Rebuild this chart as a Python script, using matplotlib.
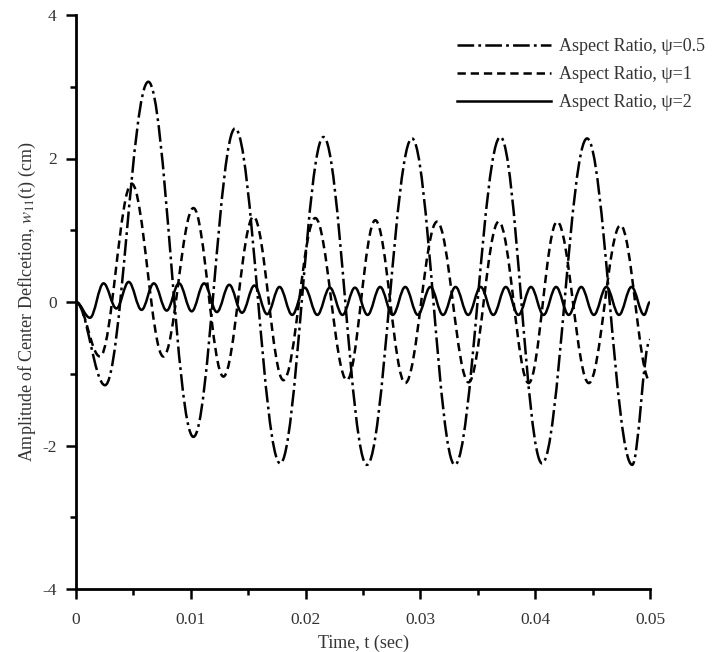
import matplotlib
matplotlib.use('Agg')
import matplotlib.pyplot as plt
from matplotlib.path import Path
from matplotlib.patches import PathPatch
from matplotlib.lines import Line2D

# ---- data (extrema of each response curve) ----
t_psi05 = [0.0, 0.00253, 0.0063, 0.01023, 0.01386, 0.01779, 0.02156, 0.02534,
           0.02927, 0.0330, 0.03697, 0.0406, 0.04452, 0.04845, 0.05]
w_psi05 = [0.0, -1.16, 3.07, -1.88, 2.42, -2.25, 2.30, -2.27,
           2.28, -2.27, 2.30, -2.25, 2.28, -2.27, -0.53]

t_psi1 = [0.0, 0.00209, 0.00485, 0.00761, 0.01023, 0.01284, 0.01546, 0.01807,
          0.02084, 0.0236, 0.02607, 0.02868, 0.03145, 0.0342, 0.03682, 0.03943,
          0.04191, 0.04467, 0.04743, 0.05]
w_psi1 = [0.0, -0.76, 1.65, -0.76, 1.31, -1.04, 1.19, -1.09,
          1.17, -1.09, 1.14, -1.13, 1.12, -1.12, 1.12, -1.13,
          1.12, -1.13, 1.07, -1.10]

t_psi2 = [0.0, 0.00122, 0.0024, 0.00352, 0.00459, 0.00571, 0.00678, 0.0079,
          0.00897, 0.01008, 0.01116, 0.01227, 0.01335, 0.01446, 0.01554, 0.01665,
          0.01773, 0.01883, 0.01992, 0.02102, 0.02211, 0.02321, 0.0243, 0.0254,
          0.02649, 0.02759, 0.02868, 0.02978, 0.03087, 0.03197, 0.03306, 0.03416,
          0.03525, 0.03635, 0.03744, 0.03854, 0.03963, 0.04073, 0.04182, 0.04292,
          0.04401, 0.04511, 0.0462, 0.0473, 0.04839, 0.04949, 0.05]
w_psi2 = [0.0, -0.22, 0.26, -0.09, 0.28, -0.11, 0.26, -0.12,
          0.26, -0.13, 0.26, -0.14, 0.24, -0.15, 0.23, -0.17,
          0.21, -0.18, 0.20, -0.18, 0.20, -0.18, 0.20, -0.18,
          0.21, -0.18, 0.21, -0.18, 0.21, -0.18, 0.21, -0.18,
          0.21, -0.18, 0.21, -0.18, 0.21, -0.18, 0.21, -0.18,
          0.21, -0.18, 0.21, -0.18, 0.21, -0.18, 0.0]

labels = ['Aspect Ratio, \u03c8=0.5', 'Aspect Ratio, \u03c8=1', 'Aspect Ratio, \u03c8=2']
xticks = [0, 0.01, 0.02, 0.03, 0.04, 0.05]
xticklabels = ['0', '0.01', '0.02', '0.03', '0.04', '0.05']
yticks = [-4, -2, 0, 2, 4]
yticklabels = ['-4', '-2', '0', '2', '4']

# ---- style ----
plt.rcParams['font.family'] = ['Liberation Serif', 'DejaVu Serif']
plt.rcParams['mathtext.fontset'] = 'stix'
plt.rcParams['axes.unicode_minus'] = False
plt.rcParams['lines.scale_dashes'] = False

fig = plt.figure(figsize=(7.27, 6.52), dpi=100)
ax = fig.add_axes([76 / 727, 63 / 652, 574 / 727, 574 / 652])


def smooth_path(ts, vs, k=0.3642):
    verts = [(ts[0], vs[0])]
    codes = [Path.MOVETO]
    for i in range(len(ts) - 1):
        dt = ts[i + 1] - ts[i]
        verts += [(ts[i] + k * dt, vs[i]), (ts[i + 1] - k * dt, vs[i + 1]),
                  (ts[i + 1], vs[i + 1])]
        codes += [Path.CURVE4] * 3
    return Path(verts, codes)


styles = [(0, (12, 3, 2, 3)), (0, (6, 3.5)), '-']
series = [(t_psi05, w_psi05), (t_psi1, w_psi1), (t_psi2, w_psi2)]
lw = 1.8
handles = []
for (ts, vs), ls, lab in zip(series, styles, labels):
    patch = PathPatch(smooth_path(ts, vs), facecolor='none', edgecolor='black',
                      lw=lw, linestyle=ls, capstyle='butt', joinstyle='round')
    ax.add_patch(patch)
    handles.append(Line2D([], [], color='black', lw=lw, linestyle=ls, label=lab))

ax.set_xlim(0, 0.05)
ax.set_ylim(-4, 4)
ax.set_xticks(xticks)
ax.set_xticklabels(xticklabels)
ax.set_yticks(yticks)
ax.set_yticklabels(yticklabels)
ax.set_xticks([0.005, 0.015, 0.025, 0.035, 0.045], minor=True)
ax.set_yticks([-3, -1, 1, 3], minor=True)

for s in ['top', 'right']:
    ax.spines[s].set_visible(False)
for s in ['left', 'bottom']:
    ax.spines[s].set_linewidth(2.0)

ax.tick_params(which='major', direction='out', length=7.5, width=1.8,
               labelsize=12.5, pad=6.5, colors='black')
ax.tick_params(axis='x', which='major', pad=9)
ax.tick_params(which='minor', direction='out', length=4.5, width=1.8)
for lab in ax.get_xticklabels() + ax.get_yticklabels():
    lab.set_color('#333333')

ax.set_xlabel('Time, t (sec)', fontsize=13, labelpad=5, color='#333333')
ax.set_ylabel('Amplitude of Center Deflcetion, $\\mathit{w}_{11}$(t) (cm)',
              fontsize=13, labelpad=3, color='#333333')

leg = fig.legend(handles=handles, loc='upper left',
                 bbox_to_anchor=(457 / 727, 1 - 38 / 652),
                 bbox_transform=fig.transFigure, frameon=False,
                 fontsize=13, handlelength=5.2, handletextpad=0.45,
                 labelspacing=0.62, borderpad=0, borderaxespad=0)
for txt in leg.get_texts():
    txt.set_color('#333333')

fig.savefig('out.png', dpi=100)
